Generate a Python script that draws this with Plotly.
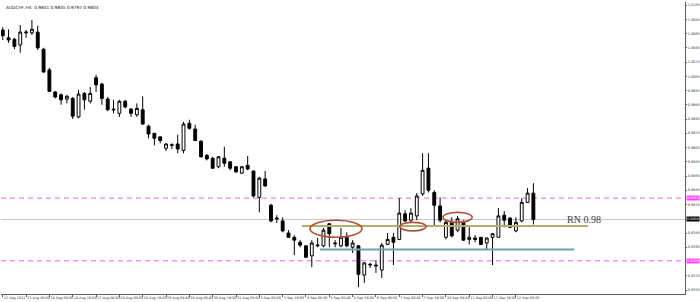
import plotly.graph_objects as go

# ---- data (AUDCHF, H4) ----
opens = [1.0070, 1.0059, 1.0057, 1.0049, 1.0066, 1.0066, 1.0067, 1.0043, 1.0014, 0.9983,
         0.9979, 0.9973, 0.9974, 0.9948, 0.9981, 0.9970, 1.0003, 0.9994, 0.9973, 0.9959,
         0.9953, 0.9970, 0.9959, 0.9951, 0.9958, 0.9935, 0.9925, 0.9920, 0.9904, 0.9909,
         0.9910, 0.9901, 0.9939, 0.9931, 0.9914, 0.9894, 0.9890, 0.9878, 0.9890, 0.9885,
         0.9878, 0.9869, 0.9880, 0.9872, 0.9835, 0.9861, 0.9824, 0.9806, 0.9802, 0.9785,
         0.9779, 0.9772, 0.9767, 0.9753, 0.9767, 0.9767, 0.9798, 0.9771, 0.9767, 0.9779,
         0.9765, 0.9767, 0.9726, 0.9740, 0.9740, 0.9733, 0.9769, 0.9779, 0.9776, 0.9812,
         0.9803, 0.9809, 0.9840, 0.9876, 0.9842, 0.9823, 0.9779, 0.9800, 0.9789, 0.9800,
         0.9776, 0.9778, 0.9779, 0.9771, 0.9779, 0.9779, 0.9810, 0.9806, 0.9788, 0.9802,
         0.9828, 0.9841]
highs = [1.0074, 1.0071, 1.0059, 1.0077, 1.0070, 1.0084, 1.0076, 1.0045, 1.0017, 0.9984,
         0.9981, 0.9979, 0.9976, 0.9986, 0.9983, 0.9990, 1.0007, 0.9996, 0.9976, 0.9972,
         0.9972, 0.9972, 0.9960, 0.9967, 0.9977, 0.9937, 0.9925, 0.9920, 0.9911, 0.9911,
         0.9923, 0.9941, 0.9944, 0.9937, 0.9915, 0.9896, 0.9892, 0.9893, 0.9906, 0.9886,
         0.9879, 0.9879, 0.9893, 0.9873, 0.9864, 0.9872, 0.9826, 0.9810, 0.9807, 0.9789,
         0.9782, 0.9775, 0.9768, 0.9775, 0.9778, 0.9792, 0.9799, 0.9775, 0.9792, 0.9786,
         0.9775, 0.9768, 0.9744, 0.9743, 0.9747, 0.9771, 0.9785, 0.9785, 0.9834, 0.9817,
         0.9820, 0.9841, 0.9897, 0.9897, 0.9845, 0.9835, 0.9803, 0.9807, 0.9809, 0.9803,
         0.9795, 0.9782, 0.9779, 0.9779, 0.9785, 0.9820, 0.9816, 0.9807, 0.9807, 0.9834,
         0.9848, 0.9855]
lows = [1.0056, 1.0052, 1.0043, 1.0038, 1.0059, 1.0063, 1.0042, 1.0010, 0.9983, 0.9974,
        0.9965, 0.9967, 0.9945, 0.9946, 0.9958, 0.9967, 0.9983, 0.9965, 0.9956, 0.9953,
        0.9948, 0.9960, 0.9948, 0.9948, 0.9937, 0.9918, 0.9908, 0.9911, 0.9900, 0.9903,
        0.9897, 0.9897, 0.9930, 0.9914, 0.9891, 0.9887, 0.9875, 0.9876, 0.9878, 0.9873,
        0.9869, 0.9868, 0.9873, 0.9835, 0.9814, 0.9850, 0.9800, 0.9799, 0.9786, 0.9778,
        0.9754, 0.9765, 0.9750, 0.9737, 0.9765, 0.9765, 0.9765, 0.9765, 0.9765, 0.9765,
        0.9757, 0.9709, 0.9715, 0.9736, 0.9729, 0.9722, 0.9768, 0.9740, 0.9775, 0.9800,
        0.9800, 0.9803, 0.9837, 0.9842, 0.9796, 0.9800, 0.9776, 0.9779, 0.9786, 0.9774,
        0.9769, 0.9772, 0.9768, 0.9761, 0.9740, 0.9779, 0.9793, 0.9792, 0.9786, 0.9800,
        0.9827, 0.9797]
closes = [1.0062, 1.0056, 1.0047, 1.0067, 1.0067, 1.0071, 1.0045, 1.0011, 0.9984, 0.9976,
          0.9972, 0.9977, 0.9949, 0.9980, 0.9972, 0.9981, 0.9993, 0.9974, 0.9958, 0.9958,
          0.9970, 0.9962, 0.9953, 0.9960, 0.9938, 0.9924, 0.9918, 0.9915, 0.9910, 0.9908,
          0.9903, 0.9938, 0.9932, 0.9915, 0.9892, 0.9889, 0.9876, 0.9892, 0.9883, 0.9876,
          0.9871, 0.9878, 0.9875, 0.9837, 0.9862, 0.9851, 0.9802, 0.9805, 0.9788, 0.9779,
          0.9775, 0.9768, 0.9751, 0.9771, 0.9768, 0.9789, 0.9784, 0.9770, 0.9779, 0.9767,
          0.9771, 0.9727, 0.9743, 0.9741, 0.9739, 0.9768, 0.9776, 0.9772, 0.9813, 0.9802,
          0.9813, 0.9837, 0.9873, 0.9845, 0.9824, 0.9803, 0.9800, 0.9781, 0.9805, 0.9775,
          0.9779, 0.9776, 0.9769, 0.9778, 0.9784, 0.9809, 0.9803, 0.9793, 0.9800, 0.9828,
          0.9841, 0.9804]

tick_labels = ["22 Aug 2012", "23 Aug 08:00", "24 Aug 00:00", "24 Aug 16:00", "27 Aug 08:00",
               "28 Aug 00:00", "28 Aug 16:00", "29 Aug 08:00", "30 Aug 00:00", "30 Aug 16:00",
               "31 Aug 08:00", "3 Sep 00:00", "3 Sep 16:00", "4 Sep 08:00", "5 Sep 00:00",
               "5 Sep 16:00", "6 Sep 08:00", "7 Sep 00:00", "7 Sep 16:00", "10 Sep 08:00",
               "11 Sep 00:00", "11 Sep 16:00", "12 Sep 08:00"]

title_text = "AUDCHF,H4  0.9841 0.9855 0.9797 0.9804"
bid_price = 0.9804
pink_levels = [0.9834, 0.9746]
rn_level = 0.9795
rn_label = "RN 0.98"
support_level = 0.9762
# zones highlighted with ellipses: (bar from, bar to, price low, price high)
ellipses = [(52.7, 61.6, 0.9779, 0.9803),
            (68.1, 72.6, 0.9788, 0.9800),
            (75.5, 80.5, 0.9800, 0.9814)]
rn_span = (51.3, 100.4)
support_span = (54.4, 98.0)

bars = list(range(len(opens)))

# price-axis ticks every 0.0020 from 0.9705; the ones hidden under the line labels are left out
label_levels = [bid_price] + pink_levels
y_ticks = [round(0.9705 + 0.002 * i, 4) for i in range(21)]
y_ticks = [t for t in y_ticks if all(abs(t - lv) > 0.00075 for lv in label_levels)]

fig = go.Figure()
fig.add_trace(go.Candlestick(
    x=bars, open=opens, high=highs, low=lows, close=closes,
    increasing=dict(line=dict(color="black", width=1), fillcolor="white"),
    decreasing=dict(line=dict(color="black", width=1), fillcolor="black"),
    whiskerwidth=0, hoverinfo="skip", showlegend=False,
))

shapes = []
shapes.append(dict(type="line", xref="paper", x0=0, x1=1, yref="y", y0=bid_price, y1=bid_price,
                   line=dict(color="#c8c8c8", width=1), layer="below"))
for lv in pink_levels:
    shapes.append(dict(type="line", xref="paper", x0=0, x1=1, yref="y", y0=lv, y1=lv,
                       line=dict(color="#f060f0", width=1, dash="5px,4px"), layer="below"))
shapes.append(dict(type="line", xref="x", x0=rn_span[0], x1=rn_span[1], yref="y",
                   y0=rn_level, y1=rn_level, line=dict(color="#b3ad6c", width=2)))
shapes.append(dict(type="line", xref="x", x0=support_span[0], x1=support_span[1], yref="y",
                   y0=support_level, y1=support_level, line=dict(color="#6fa3b3", width=2)))
for x0, x1, y0, y1 in ellipses:
    shapes.append(dict(type="circle", xref="x", yref="y", x0=x0, x1=x1, y0=y0, y1=y1,
                       line=dict(color="#b0503e", width=1.6)))

small = dict(size=3.4, family="DejaVu Sans")
annotations = [
    dict(xref="paper", yref="paper", x=0.004, y=0.995, xanchor="left", yanchor="top",
         text=title_text, showarrow=False, font=dict(size=4.3, color="#202020", family="DejaVu Sans")),
    dict(xref="x", yref="y", x=96.4, y=bid_price, xanchor="left", yanchor="middle",
         text=rn_label, showarrow=False, font=dict(size=10, color="#404040", family="Liberation Serif")),
    dict(xref="paper", yref="y", x=1.0, y=bid_price, xanchor="left", yanchor="middle", xshift=1,
         text=f"{bid_price:.4f}", showarrow=False, bgcolor="#000000", borderpad=0,
         font=dict(color="white", **small)),
]
for lv in pink_levels:
    annotations.append(dict(xref="paper", yref="y", x=1.0, y=lv, xanchor="left", yanchor="middle", xshift=1,
                            text=f"{lv:.4f}", showarrow=False, bgcolor="#ff40ff", borderpad=0,
                            font=dict(color="white", **small)))

fig.update_layout(
    width=700, height=302,
    margin=dict(l=1, r=15, t=2, b=8, autoexpand=False),
    paper_bgcolor="white", plot_bgcolor="white",
    shapes=shapes, annotations=annotations,
    showlegend=False,
    xaxis=dict(
        range=[-0.3, 117.0], rangeslider=dict(visible=False), automargin=False,
        tickmode="array", tickvals=bars[::4], ticktext=tick_labels, tickangle=0,
        ticks="outside", ticklen=2, tickcolor="#606060",
        ticklabelposition="outside right",
        tickfont=dict(size=3.4, color="#303030", family="DejaVu Sans"),
        showgrid=False, zeroline=False, showline=True, linecolor="#606060", linewidth=1,
    ),
    yaxis=dict(
        side="right", range=[0.96994, 1.01093], automargin=False,
        tickmode="array", tickvals=y_ticks, tickformat=".4f",
        ticks="outside", ticklen=1, tickcolor="#606060", ticklabelstandoff=0,
        tickfont=dict(size=3.4, color="#303030", family="DejaVu Sans"),
        showgrid=False, zeroline=False, showline=True, linecolor="#606060", linewidth=1,
    ),
)

fig.write_html("out.html")
